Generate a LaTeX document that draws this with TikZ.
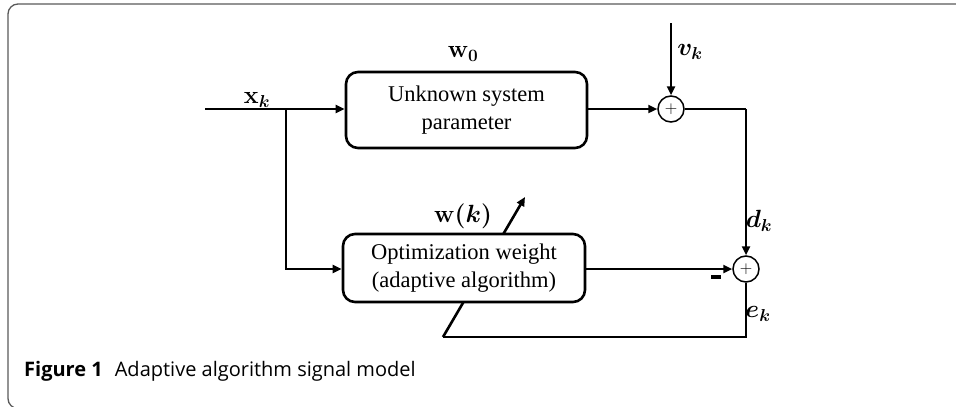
\documentclass[tikz,border=0pt]{standalone}
\usepackage{fontspec}
\setmainfont{Liberation Serif}
\newfontfamily\capfont{Open Sans}
\usetikzlibrary{arrows.meta}
\tikzset{
  wire/.style={line width=2.6pt},
  arr/.style={wire, -{Triangle[length=9pt,width=8pt]}},
  blk/.style={draw, line width=2.6pt, rounded corners=12pt, fill=white, inner sep=0pt, align=center, font=\fontsize{22.5}{28}\selectfont},
  sumc/.style={draw, circle, line width=1.5pt, minimum size=26pt, inner sep=0pt, fill=white, font=\fontsize{17}{17}\selectfont},
  lab/.style={inner sep=0pt, font=\fontsize{27}{27}\selectfont\boldmath},
  frame/.style={black!65, line width=1.3pt, rounded corners=10pt}
}
\begin{document}
\begin{tikzpicture}[x=1pt,y=-1pt]
\useasboundingbox (0,0) rectangle (956,407);
\draw[frame] (970,4) -- (8,4) -- (8,408.5) -- (40,408.5);

% coordinates
\coordinate (in) at (205,109);
\coordinate (br) at (286,109);
\coordinate (vtop) at (671,23);
\coordinate (c1) at (746,109);
\coordinate (bl) at (443,337);
\coordinate (dtop) at (525,197);

% nodes
\node[blk, minimum width=241pt, minimum height=76pt] (sys) at (466.5,110) {Unknown system\\parameter};
\node[sumc] (s1) at (671,109) {$+$};
\node[sumc] (s2) at (746,269) {$+$};

% feedback path with adaptive arrow (under box2)
\draw[wire] (s2.south) |- (bl);
\draw[arr, line join=miter] (bl) -- (dtop);

\node[blk, minimum width=242pt, minimum height=68pt] (opt) at (464,268) {Optimization weight\\(adaptive algorithm)};

% connectors
\draw[arr] (in) -- (sys.west |- in);
\draw[arr] (br) |- (opt.west |- s2);
\draw[arr] (sys.east |- s1) -- (s1.west);
\draw[arr] (vtop) -- (s1.north);
\draw[wire] (s1.east) -- (c1);
\draw[arr] (c1) -- (s2.north);
\draw[arr] (opt.east |- s2) -- (s2.west);

% labels
\node[lab] (lx) at (257,100) {$\mathbf{x}_k$};
\node[lab] (lw0) at (463,54) {$\mathbf{w}_{\mathbf{0}}$};
\node[lab] (lv) at (690,52) {$v_k$};
\node[lab, font=\fontsize{30}{30}\selectfont\boldmath] (lwk) at (463,216) {$\mathbf{w}(k)$};
\node[lab] (ld) at (759,221) {$d_k$};
\node[lab] (le) at (758,314) {$e_k$};
\node[inner sep=0pt] (minus) at (716,277) {\rule{10pt}{3.5pt}};

% caption
\node[anchor=base west, inner sep=0pt, font=\capfont\fontsize{20}{20}\selectfont] (cap) at (24,376) {\textbf{Figure 1}\hspace{0.6em}Adaptive algorithm signal model};
\end{tikzpicture}
\end{document}
